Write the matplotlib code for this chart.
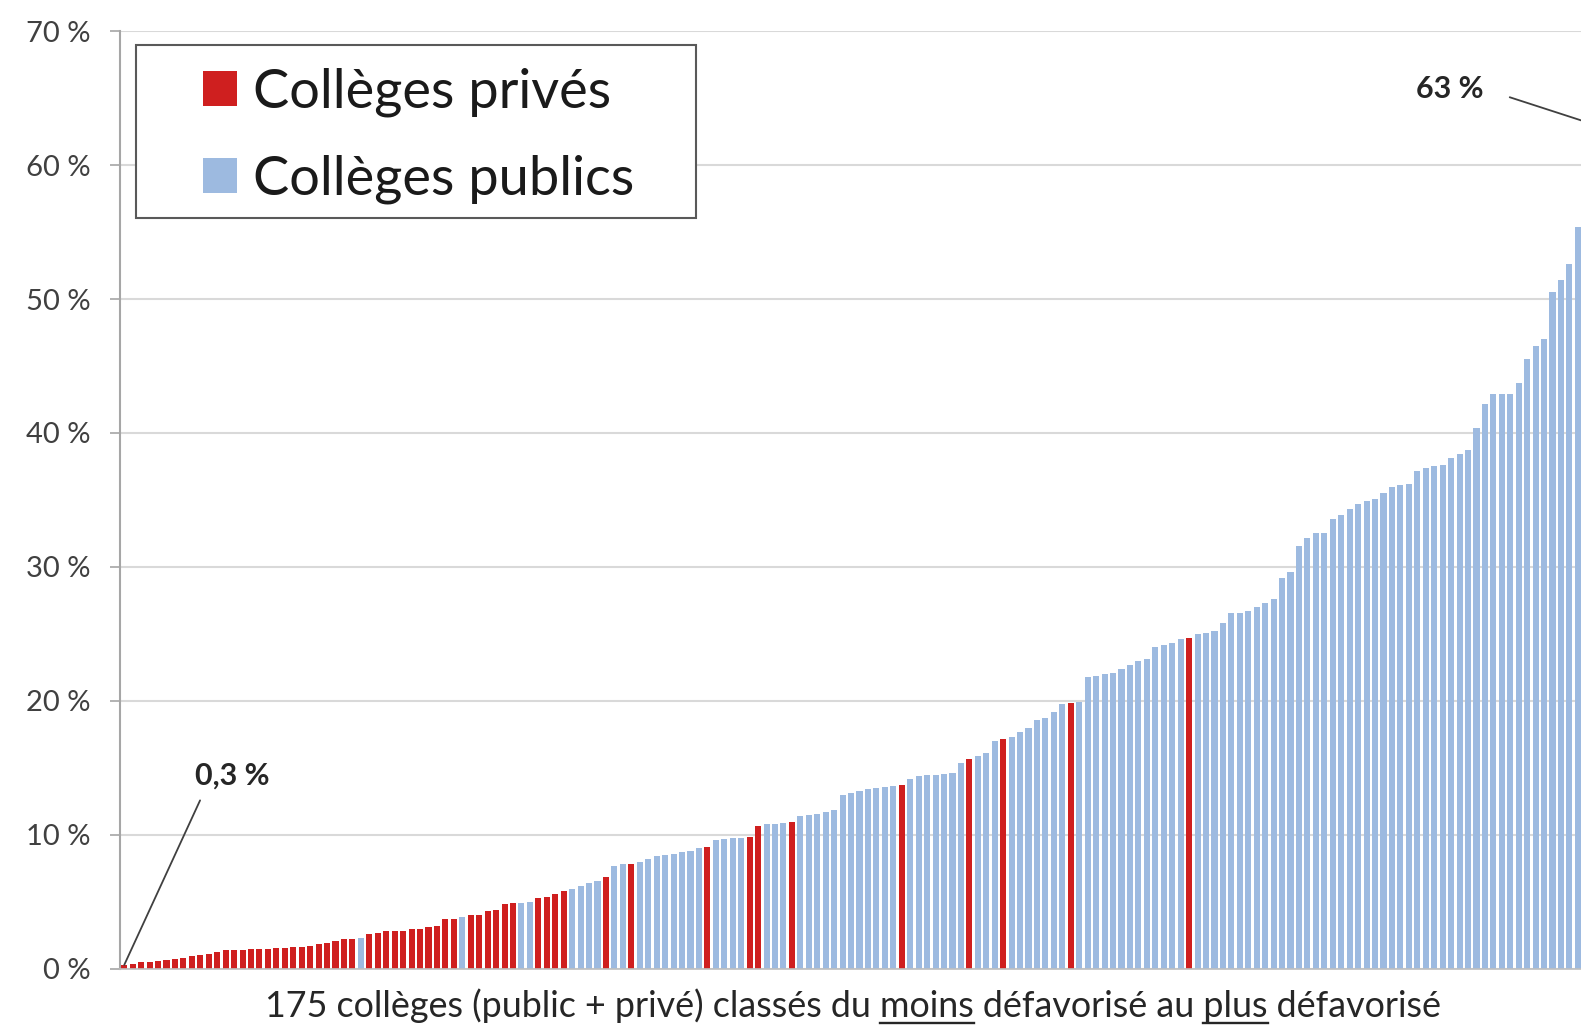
import matplotlib.pyplot as plt
from matplotlib.lines import Line2D
from matplotlib.patches import Patch, Rectangle

plt.rcParams['font.family'] = ['Lato', 'DejaVu Sans']

# taux par college, classes du moins au plus defavorise (en %)
taux = [
    0.3, 0.4, 0.5, 0.55, 0.6, 0.7, 0.75, 0.85, 0.95, 1.05,
    1.15, 1.3, 1.4, 1.45, 1.45, 1.5, 1.5, 1.5, 1.55, 1.55,
    1.65, 1.65, 1.7, 1.85, 1.95, 2.1, 2.2, 2.25, 2.3, 2.6,
    2.7, 2.8, 2.85, 2.85, 2.95, 3.0, 3.15, 3.2, 3.7, 3.75,
    3.85, 4.0, 4.05, 4.3, 4.4, 4.85, 4.9, 4.95, 5.0, 5.3,
    5.4, 5.6, 5.8, 6.0, 6.2, 6.4, 6.6, 6.9, 7.7, 7.8,
    7.85, 8.0, 8.2, 8.4, 8.5, 8.6, 8.7, 8.8, 9.0, 9.1,
    9.6, 9.7, 9.75, 9.8, 9.85, 10.7, 10.8, 10.85, 10.9, 11.0,
    11.4, 11.5, 11.6, 11.7, 11.9, 13.0, 13.1, 13.3, 13.4, 13.5,
    13.6, 13.65, 13.7, 14.2, 14.4, 14.5, 14.5, 14.55, 14.6, 15.4,
    15.7, 15.9, 16.1, 17.0, 17.2, 17.3, 17.7, 18.0, 18.6, 18.7,
    19.2, 19.8, 19.85, 19.9, 21.8, 21.9, 22.0, 22.1, 22.4, 22.7,
    23.0, 23.1, 24.0, 24.2, 24.3, 24.6, 24.7, 25.0, 25.1, 25.2,
    25.8, 26.6, 26.6, 26.7, 27.0, 27.3, 27.6, 29.2, 29.6, 31.6,
    32.2, 32.5, 32.5, 33.6, 33.9, 34.3, 34.7, 34.9, 35.1, 35.5,
    36.0, 36.1, 36.2, 37.2, 37.4, 37.5, 37.6, 38.1, 38.4, 38.7,
    40.4, 42.2, 42.9, 42.9, 42.9, 43.7, 45.5, 46.5, 47.0, 50.5,
    51.4, 52.6, 55.4, 59.0, 63.0,
]

# 1 = college prive, 0 = college public
prive = [
    1, 1, 1, 1, 1, 1, 1, 1, 1, 1,
    1, 1, 1, 1, 1, 1, 1, 1, 1, 1,
    1, 1, 1, 1, 1, 1, 1, 1, 0, 1,
    1, 1, 1, 1, 1, 1, 1, 1, 1, 1,
    0, 1, 1, 1, 1, 1, 1, 0, 0, 1,
    1, 1, 1, 0, 0, 0, 0, 1, 0, 0,
    1, 0, 0, 0, 0, 0, 0, 0, 0, 1,
    0, 0, 0, 0, 1, 1, 0, 0, 0, 1,
    0, 0, 0, 0, 0, 0, 0, 0, 0, 0,
    0, 0, 1, 0, 0, 0, 0, 0, 0, 0,
    1, 0, 0, 0, 1, 0, 0, 0, 0, 0,
    0, 0, 1, 0, 0, 0, 0, 0, 0, 0,
    0, 0, 0, 0, 0, 0, 1, 0, 0, 0,
    0, 0, 0, 0, 0, 0, 0, 0, 0, 0,
    0, 0, 0, 0, 0, 0, 0, 0, 0, 0,
    0, 0, 0, 0, 0, 0, 0, 0, 0, 0,
    0, 0, 0, 0, 0, 0, 0, 0, 0, 0,
    0, 0, 0, 0, 0,
]

graduations = [0, 10, 20, 30, 40, 50, 60, 70]
etiquettes_y = ['0 %', '10 %', '20 %', '30 %', '40 %', '50 %', '60 %', '70 %']
legende = ['Collèges privés', 'Collèges publics']
titre_x = "175 collèges (public + privé) classés du moins défavorisé au plus défavorisé"

rouge = '#CF1F1F'
bleu = '#9DBAE0'
W, H = 1581, 1027

fig = plt.figure(figsize=(W / 100, H / 100), dpi=100)
# l'axe depasse a droite : la derniere barre (63 %) est coupee comme sur l'original
ax = fig.add_axes([0.0759, 0.0565, 0.9355, 0.9133])

rangs = list(range(len(taux)))
couleurs = [rouge if p else bleu for p in prive]
ax.bar(rangs, taux, width=0.72, color=couleurs, zorder=2)

ax.set_xlim(-0.5, len(taux) - 0.5)
ax.set_ylim(0, 70)
ax.set_yticks(graduations)
ax.set_yticklabels(etiquettes_y)
ax.set_xticks([])
ax.tick_params(axis='y', length=7, width=1.2, color='#A6A6A6',
               labelsize=21, labelcolor='#404040', pad=14)
ax.grid(axis='y', color='#D9D9D9', linewidth=1.5, zorder=0)
ax.set_axisbelow(True)
for s in ['top', 'right']:
    ax.spines[s].set_visible(False)
ax.spines['left'].set_color('#A6A6A6')
ax.spines['left'].set_linewidth(1.5)
ax.spines['bottom'].set_color('#BFBFBF')
ax.spines['bottom'].set_linewidth(1.2)

# legende : cadre dessine a part pour avoir des marges comme l'original
ax.add_patch(Rectangle((0.0108, 0.8006), 0.3787, 0.1844, transform=ax.transAxes,
                       facecolor='white', edgecolor='#595959', linewidth=1.5, zorder=5))
poignees = [Patch(facecolor=rouge, label=legende[0]),
            Patch(facecolor=bleu, label=legende[1])]
leg = ax.legend(handles=poignees, loc='upper left', bbox_to_anchor=(0.0561, 0.961),
                borderaxespad=0, borderpad=0, frameon=False, fontsize=39,
                handlelength=0.62, handleheight=0.62, handletextpad=0.3,
                labelspacing=0.69)
leg.set_zorder(6)
for t in leg.get_texts():
    t.set_color('#1a1a1a')

# annotations des extremes
ax.annotate('0,3 %', xy=(0, taux[0]), xytext=(12.8, 14.4), ha='center', va='center',
            fontsize=22, fontweight='bold', color='#262626',
            arrowprops=dict(arrowstyle='-', color='#404040', lw=1.3,
                            relpos=(0.13, 0), shrinkA=6, shrinkB=0))
ax.annotate('63 %', xy=(len(taux) - 1, taux[-1]), xytext=(156.8, 65.7), ha='center',
            va='center', fontsize=22, fontweight='bold', color='#262626',
            arrowprops=dict(arrowstyle='-', color='#404040', lw=1.3,
                            relpos=(1, 0.5), shrinkA=18, shrinkB=0))

# titre de l'axe x, avec "moins" et "plus" soulignes
taille_x = 25.8
lab = fig.text(853 / W, 10 / H, titre_x, ha='center', va='baseline',
               fontsize=taille_x, color='#262626')
fig.canvas.draw()
r = fig.canvas.get_renderer()
x_gauche = lab.get_window_extent(r).x0


def largeur(s):
    t = fig.text(0, 0, s, fontsize=taille_x)
    w = t.get_window_extent(r).width
    t.remove()
    return w


for mot in ['moins', 'plus']:
    fin = titre_x.index(mot) + len(mot)
    x1 = x_gauche + largeur(titre_x[:fin])
    x0 = x1 - largeur(mot)
    fig.add_artist(Line2D([x0 / W, x1 / W], [4 / H, 4 / H], transform=fig.transFigure,
                          color='#262626', linewidth=1.7))

fig.savefig('out.png', dpi=100, facecolor='white')
